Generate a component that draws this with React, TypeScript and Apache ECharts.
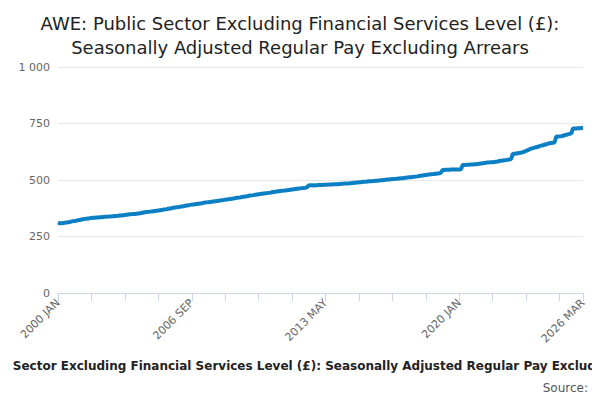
import * as echarts from 'echarts';
import { useEffect, useRef } from 'react';

const MONTHS = ['JAN', 'FEB', 'MAR', 'APR', 'MAY', 'JUN', 'JUL', 'AUG', 'SEP', 'OCT', 'NOV', 'DEC'];

const values: number[] = [
  312, 309, 308, 310, 311, 312, 313, 314, 316, 318, 319, 320,
  322, 323, 325, 326, 328, 329, 330, 331, 332, 333, 333, 334,
  334, 335, 335, 336, 337, 337, 338, 339, 339, 340, 341, 341,
  342, 343, 343, 344, 345, 346, 347, 348, 349, 350, 350, 351,
  352, 353, 354, 356, 357, 358, 359, 360, 361, 362, 363, 364,
  365, 366, 367, 369, 370, 371, 373, 374, 375, 377, 378, 379,
  380, 382, 383, 384, 386, 387, 388, 390, 391, 392, 393, 394,
  395, 396, 397, 399, 400, 401, 402, 403, 404, 405, 406, 407,
  408, 409, 410, 411, 413, 414, 415, 416, 417, 418, 420, 421,
  422, 423, 425, 426, 427, 428, 430, 431, 432, 433, 435, 436,
  437, 438, 439, 440, 441, 442, 443, 444, 446, 447, 448, 449,
  450, 451, 452, 453, 454, 455, 456, 457, 458, 459, 460, 461,
  462, 463, 464, 465, 466, 468, 476, 477, 477, 476, 477, 477,
  478, 478, 478, 479, 479, 479, 480, 480, 480, 481, 481, 481,
  482, 482, 483, 484, 484, 485, 485, 486, 487, 488, 488, 489,
  490, 490, 491, 492, 492, 493, 494, 495, 495, 496, 497, 497,
  498, 499, 499, 500, 501, 502, 502, 503, 504, 504, 505, 506,
  507, 508, 508, 509, 510, 511, 512, 512, 513, 514, 515, 516,
  518, 519, 520, 521, 522, 523, 524, 525, 526, 527, 528, 529,
  530, 532, 544, 544, 545, 545, 545, 546, 546, 546, 547, 547,
  546, 547, 566, 566, 567, 568, 568, 569, 569, 570, 570, 571,
  572, 573, 574, 575, 576, 577, 578, 579, 579, 580, 581, 582,
  584, 585, 586, 587, 588, 590, 591, 593, 615, 616, 617, 618,
  619, 621, 623, 626, 629, 632, 636, 639, 641, 643, 645, 647,
  650, 652, 654, 656, 658, 661, 663, 664, 665, 667, 692, 692,
  693, 694, 696, 698, 700, 702, 704, 706, 728, 728, 728, 729,
  729, 730, 731,
];

const categories = values.map((_, i) => `${2000 + Math.floor(i / 12)} ${MONTHS[i % 12]}`);
const lastIdx = categories.length - 1;

const title = 'AWE: Public Sector Excluding Financial Services Level (£):\nSeasonally Adjusted Regular Pay Excluding Arrears';
const axisTitle = 'AWE: Public Sector Excluding Financial Services Level (£): Seasonally Adjusted Regular Pay Excluding Arrears';

export default function App() {
  const chartRef = useRef<HTMLDivElement>(null);

  useEffect(() => {
    if (!chartRef.current) return;
    const chart = echarts.init(chartRef.current, undefined, { renderer: 'svg' });

    chart.setOption({
      animation: false,
      textStyle: { fontFamily: 'DejaVu Sans' },
      title: {
        text: title,
        left: 'center',
        top: 6,
        textStyle: { fontSize: 18, fontWeight: 'normal', color: '#222', lineHeight: 24 },
      },
      grid: { left: 58, right: 17, top: 67, bottom: 107 },
      xAxis: {
        type: 'category',
        data: categories,
        boundaryGap: false,
        axisLine: { lineStyle: { color: '#ccd6eb' } },
        axisTick: {
          lineStyle: { color: '#ccd6eb' },
          length: 8,
          interval: (i: number) => i % 20 === 0 || i === lastIdx,
        },
        axisLabel: {
          rotate: 45,
          color: '#666',
          fontSize: 11,
          interval: (i: number) => i % 80 === 0 || i === lastIdx,
        },
      },
      yAxis: {
        type: 'value',
        min: 0,
        max: 1000,
        interval: 250,
        axisLabel: {
          color: '#666',
          fontSize: 11,
          formatter: (v: number) => (v >= 1000 ? '1 000' : String(v)),
        },
        splitLine: { lineStyle: { color: '#e6e6e6' } },
      },
      series: [
        {
          type: 'line',
          data: values,
          showSymbol: false,
          lineStyle: { color: '#0b7fc4', width: 4 },
          itemStyle: { color: '#0b7fc4' },
        },
      ],
      graphic: [
        {
          type: 'text',
          x: 300,
          y: 360,
          style: {
            text: axisTitle,
            textAlign: 'center',
            fill: '#222',
            font: 'bold 12px DejaVu Sans',
          },
        },
        {
          type: 'text',
          right: 12,
          y: 382,
          style: { text: 'Source:', fill: '#555', font: '12px DejaVu Sans' },
        },
      ],
    });

    return () => chart.dispose();
  }, []);

  return <div ref={chartRef} style={{ width: 600, height: 400, margin: -8 }} />;
}
